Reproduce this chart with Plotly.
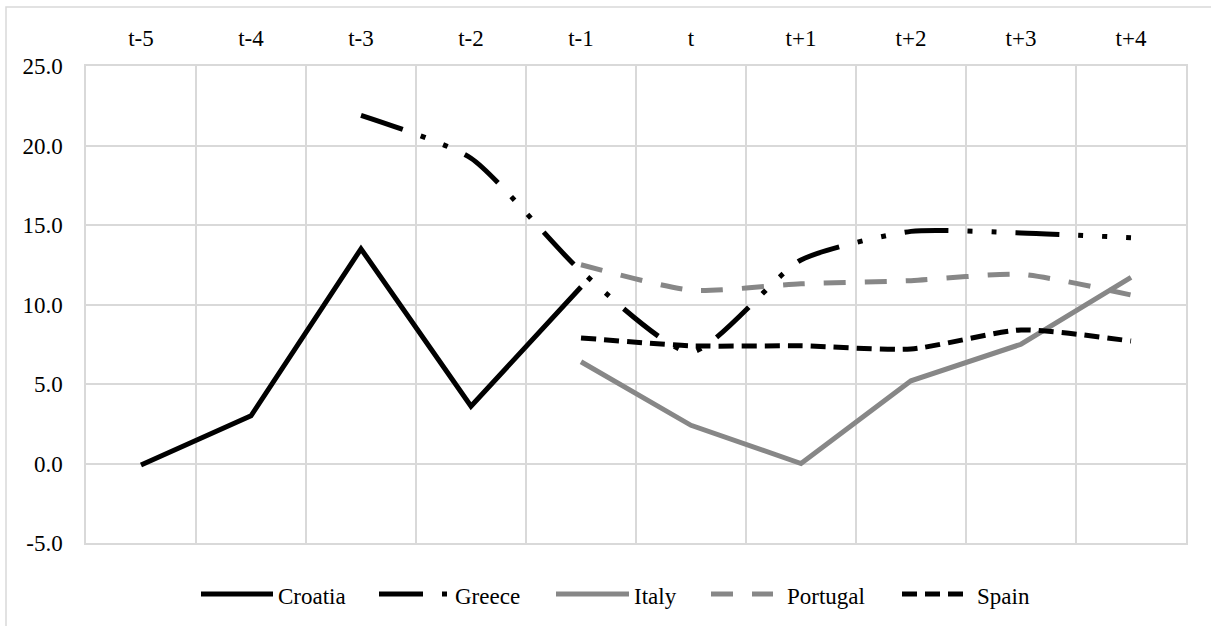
import plotly.graph_objects as go

periods = ["t-5", "t-4", "t-3", "t-2", "t-1", "t", "t+1", "t+2", "t+3", "t+4"]
croatia = [-0.1, 3.0, 13.5, 3.6, 11.1, None, None, None, None, None]
greece = [None, None, 21.9, 19.2, 12.1, 7.0, 12.8, 14.6, 14.5, 14.2]
italy = [None, None, None, None, 6.4, 2.4, 0.0, 5.2, 7.5, 11.7]
portugal = [None, None, None, None, 12.5, 10.9, 11.3, 11.5, 11.9, 10.6]
spain = [None, None, None, None, 7.9, 7.4, 7.4, 7.2, 8.4, 7.7]
y_ticks = [-5, 0, 5, 10, 15, 20, 25]
y_tick_labels = ["-5.0", "0.0", "5.0", "10.0", "15.0", "20.0", "25.0"]

FONT = "Liberation Serif, Times New Roman, serif"
GRID = "#d9d9d9"
BLACK = "#000000"
GREY = "#878787"
LW = 5

# plot area in pixels (for placing the legend in paper coordinates)
PL, PR, PT, PB = 86, 1186, 66, 543


def px_x(p):
    return (p - PL) / (PR - PL)


def px_y(p):
    return (PB - p) / (PB - PT)


series = [
    ("Croatia", croatia, BLACK, "solid", "linear"),
    ("Greece", greece, BLACK, "44px,19px,5px,19px,5px,19px", "spline"),
    ("Italy", italy, GREY, "solid", "linear"),
    ("Portugal", portugal, GREY, "22px,19px", "spline"),
    ("Spain", spain, BLACK, "15px,8px", "spline"),
]

fig = go.Figure()
for name, vals, color, dash, shape in series:
    line = dict(color=color, width=LW, dash=dash, shape=shape)
    if shape == "spline":
        line["smoothing"] = 0.6
    fig.add_trace(go.Scatter(
        x=periods, y=vals, name=name, mode="lines",
        line=line, connectgaps=False, showlegend=False,
    ))

# custom legend (line samples + labels) below the plot
legend_pos = [(201, 273, 276), (379, 452, 453), (556, 629, 632),
              (711, 773, 785), (902, 965, 975)]
shapes = [dict(
    type="rect", xref="paper", yref="paper",
    x0=px_x(6), x1=px_x(1216), y0=px_y(631), y1=px_y(7),
    line=dict(color=GRID, width=1.5), fillcolor="rgba(0,0,0,0)",
    layer="below",
)]
annotations = []
LY = 594
for (name, vals, color, dash, shape), (x0, x1, xt) in zip(series, legend_pos):
    shapes.append(dict(
        type="line", xref="paper", yref="paper",
        x0=px_x(x0), x1=px_x(x1), y0=px_y(LY), y1=px_y(LY),
        line=dict(color=color, width=LW, dash=dash),
    ))
    annotations.append(dict(
        xref="paper", yref="paper", x=px_x(xt), y=px_y(LY + 2),
        xanchor="left", yanchor="middle", text=name, showarrow=False,
        font=dict(family=FONT, size=23, color="#000000"),
    ))

fig.update_layout(
    width=1211, height=626,
    paper_bgcolor="white", plot_bgcolor="white",
    margin=dict(l=PL, r=1211 - PR, t=PT, b=626 - PB),
    font=dict(family=FONT, size=23, color="#000000"),
    showlegend=False,
    xaxis=dict(
        type="category", side="top", tickson="boundaries",
        showgrid=True, gridcolor=GRID, gridwidth=1.5,
        ticks="", showline=True, linecolor=GRID, linewidth=1.5, mirror=True,
        ticklabelstandoff=9,
        tickfont=dict(family=FONT, size=23, color="#000000"),
        range=[-0.5, 9.5],
    ),
    yaxis=dict(
        range=[-5, 25], tickvals=y_ticks, ticktext=y_tick_labels,
        showgrid=True, gridcolor=GRID, gridwidth=1.5, zeroline=False,
        ticks="", showline=True, linecolor=GRID, linewidth=1.5, mirror=True,
        ticklabelstandoff=17,
        tickfont=dict(family=FONT, size=23, color="#000000"),
    ),
    shapes=shapes,
    annotations=annotations,
)

fig.write_html("out.html", config={"displayModeBar": False},
               post_script="document.body.style.margin='0';")
